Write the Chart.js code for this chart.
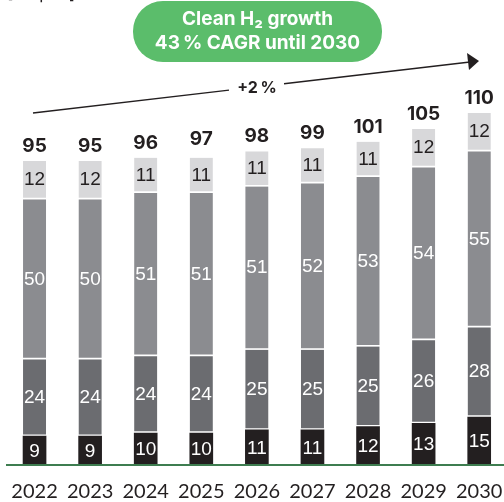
<!DOCTYPE html>
<html>
<head>
<meta charset="utf-8">
<script src="https://cdn.jsdelivr.net/npm/chart.js@4.4.1/dist/chart.umd.min.js"></script>
<style>
  html, body { margin: 0; padding: 0; background: #ffffff; overflow: hidden; }
  #wrap { width: 504px; height: 502px; overflow: hidden; position: relative; }
  canvas { display: block; }
</style>
</head>
<body>
<div id="wrap"><canvas id="c" width="507" height="502"></canvas></div>
<script>
// ---- data ----
const years = ["2022", "2023", "2024", "2025", "2026", "2027", "2028", "2029", "2030"];
const seriesBlack = [9, 9, 10, 10, 11, 11, 12, 13, 15];
const seriesDark = [24, 24, 24, 24, 25, 25, 25, 26, 28];
const seriesMid = [50, 50, 51, 51, 51, 52, 53, 54, 55];
const seriesLight = [12, 12, 11, 11, 11, 11, 11, 12, 12];
const totals = [95, 95, 96, 97, 98, 99, 101, 105, 110];
const pillLines = ["Clean H\u2082 growth", "43\u2009% CAGR until 2030"];
const growthLabel = "+2\u2009%";
const unitLabel = "[Mt p.a.]";

const textDark = "#231f20";

const segLabels = {
  id: "segLabels",
  afterDatasetsDraw(chart) {
    const ctx = chart.ctx;
    ctx.save();
    ctx.textAlign = "center";
    ctx.textBaseline = "middle";
    ctx.font = "19px 'Liberation Sans', Arial, sans-serif";
    chart.data.datasets.forEach((ds, di) => {
      const meta = chart.getDatasetMeta(di);
      meta.data.forEach((bar, i) => {
        const yTop = bar.y, yBase = bar.base;
        const bw = (ds.borderWidth && ds.borderWidth.bottom) ? ds.borderWidth.bottom : 0;
        ctx.fillStyle = ds.labelColor;
        ctx.fillText(String(ds.data[i]), bar.x, (yTop + yBase - bw) / 2 + 1);
      });
    });
    // totals above bars
    const topMeta = chart.getDatasetMeta(chart.data.datasets.length - 1);
    ctx.font = "bold 19px Inter, 'Liberation Sans', sans-serif";
    ctx.fillStyle = textDark;
    topMeta.data.forEach((bar, i) => {
      const y = chart.scales.y.getPixelForValue(totals[i]);
      ctx.fillText(String(totals[i]), bar.x, y - 15);
    });
    ctx.restore();
  }
};

const decor = {
  id: "decor",
  afterDraw(chart) {
    const ctx = chart.ctx;
    const area = chart.chartArea;
    ctx.save();
    // green baseline
    ctx.strokeStyle = "#3e7d50";
    ctx.lineWidth = 2;
    ctx.beginPath();
    ctx.moveTo(6, area.bottom);
    ctx.lineTo(chart.width, area.bottom);
    ctx.stroke();

    // cut-off unit label at very top-left
    ctx.fillStyle = textDark;
    ctx.font = "17px Inter, sans-serif";
    ctx.textAlign = "left";
    ctx.textBaseline = "alphabetic";
    ctx.fillText(unitLabel, 7, -1);

    // green pill
    const px = 133, py = 1, pw = 249, ph = 61, r = 30;
    ctx.fillStyle = "#5bbd6b";
    ctx.beginPath();
    ctx.moveTo(px + r, py);
    ctx.lineTo(px + pw - r, py);
    ctx.arc(px + pw - r, py + r, r, -Math.PI / 2, 0);
    ctx.lineTo(px + pw, py + ph - r);
    ctx.arc(px + pw - r, py + ph - r, r, 0, Math.PI / 2);
    ctx.lineTo(px + r, py + ph);
    ctx.arc(px + r, py + ph - r, r, Math.PI / 2, Math.PI);
    ctx.lineTo(px, py + r);
    ctx.arc(px + r, py + r, r, Math.PI, Math.PI * 1.5);
    ctx.closePath();
    ctx.fill();
    ctx.fillStyle = "#ffffff";
    ctx.font = "bold 19px Inter, sans-serif";
    ctx.textAlign = "center";
    ctx.textBaseline = "middle";
    ctx.fillText(pillLines[0], px + pw / 2, 19);
    ctx.fillText(pillLines[1], px + pw / 2, 43);

    // growth arrow
    const x0 = 33, y0 = 113, x1 = 470, y1 = 62;
    const yAt = (x) => y0 + (y1 - y0) * (x - x0) / (x1 - x0);
    ctx.strokeStyle = textDark;
    ctx.lineWidth = 1.5;
    ctx.beginPath();
    ctx.moveTo(x0, y0); ctx.lineTo(229, yAt(229));
    ctx.moveTo(284, yAt(284)); ctx.lineTo(x1, y1);
    ctx.stroke();
    ctx.fillStyle = textDark;
    ctx.beginPath();
    ctx.moveTo(479, 61);
    ctx.lineTo(467, 53);
    ctx.lineTo(469, 70);
    ctx.closePath();
    ctx.fill();
    ctx.font = "bold 16px Inter, sans-serif";
    ctx.fillText(growthLabel, 257, 88);
    ctx.restore();
  }
};

const common = { borderColor: "#ffffff", borderSkipped: false, barThickness: 23 };

new Chart(document.getElementById("c"), {
  type: "bar",
  data: {
    labels: years,
    datasets: [
      Object.assign({ label: "s1", data: seriesBlack, backgroundColor: "#231f20", labelColor: "#ffffff",
        borderWidth: 0 }, common),
      Object.assign({ label: "s2", data: seriesDark, backgroundColor: "#6b6c70", labelColor: "#ffffff",
        borderWidth: { top: 0, left: 0, right: 0, bottom: 2 } }, common),
      Object.assign({ label: "s3", data: seriesMid, backgroundColor: "#8b8c90", labelColor: "#ffffff",
        borderWidth: { top: 0, left: 0, right: 0, bottom: 2 } }, common),
      Object.assign({ label: "s4", data: seriesLight, backgroundColor: "#d8d8da", labelColor: "#231f20",
        borderWidth: { top: 0, left: 0, right: 0, bottom: 2 } }, common)
    ]
  },
  options: {
    responsive: false,
    animation: false,
    layout: { padding: { top: 17, left: 6.75, right: 0, bottom: 0 } },
    plugins: { legend: { display: false }, tooltip: { enabled: false } },
    scales: {
      x: {
        stacked: true,
        grid: { display: false, drawTicks: false },
        border: { display: false },
        ticks: { color: textDark, font: { family: "Lato, sans-serif", size: 20, lineHeight: 1.0 }, padding: 17, maxRotation: 0, autoSkip: false },
        afterFit(scale) {
          scale.height = 37;
          scale.paddingLeft = 0;
          scale.paddingRight = 0;
        }
      },
      y: {
        stacked: true,
        display: false,
        min: 0,
        max: 140
      }
    }
  },
  plugins: [segLabels, decor]
});
</script>
</body>
</html>
